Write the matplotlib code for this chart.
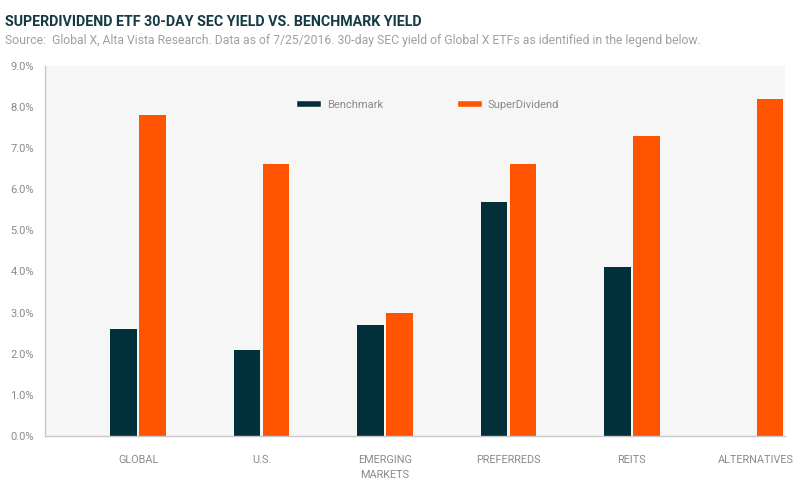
import matplotlib
matplotlib.use("Agg")
import matplotlib.pyplot as plt
import numpy as np

categories = ["GLOBAL", "U.S.", "EMERGING\nMARKETS", "PREFERREDS", "REITS", "ALTERNATIVES"]
benchmark = [2.6, 2.1, 2.7, 5.7, 4.1, np.nan]
superdividend = [7.8, 6.6, 3.0, 6.6, 7.3, 8.2]
yticks = [0, 1, 2, 3, 4, 5, 6, 7, 8, 9]

plt.rcParams['font.family'] = ['Roboto', 'DejaVu Sans']

fig = plt.figure(figsize=(8, 4.97), dpi=100)
ax = fig.add_axes([0.05625, 0.1227, 0.925, 0.745])
ax.set_facecolor("#f6f6f6")

x = np.arange(len(categories))
w = 0.215
gap = 0.01
c_b = "#02303a"
c_s = "#ff5500"
ax.bar(x - w/2 - gap, benchmark, w, color=c_b, label="Benchmark")
ax.bar(x + w/2 + gap, superdividend, w, color=c_s, label="SuperDividend")

ax.set_xlim(-0.754, 5.24)
ax.set_ylim(0, 9)
ax.set_yticks(yticks)
ax.set_yticklabels([f"{v:.1f}%" for v in yticks], color="#8a8a8a", fontsize=8)
ax.set_xticks(x)
ax.set_xticklabels(categories, color="#8a8a8a", fontsize=7.8, linespacing=1.6)
ax.tick_params(axis='both', length=0)
ax.tick_params(axis='x', pad=14)
ax.tick_params(axis='y', pad=8)
for s in ["top", "right"]:
    ax.spines[s].set_visible(False)
for s in ["left", "bottom"]:
    ax.spines[s].set_color("#c8c8c8")
    ax.spines[s].set_linewidth(1)

from matplotlib.lines import Line2D
handles = [Line2D([0], [0], color=c_b, lw=4), Line2D([0], [0], color=c_s, lw=4)]
leg = ax.legend(handles, ["Benchmark", "SuperDividend"], ncol=2, frameon=False,
                loc="center", bbox_to_anchor=(0.52, 0.895), columnspacing=7,
                handlelength=1.6, handletextpad=0.8, fontsize=8)
for t in leg.get_texts():
    t.set_color("#8a8a8a")

fig.text(0.006, 0.955, "SUPERDIVIDEND ETF 30-DAY SEC YIELD VS. BENCHMARK YIELD",
         fontsize=10.3, fontweight="bold", color="#163a45", va="center")
fig.text(0.006, 0.918, "Source:  Global X, Alta Vista Research. Data as of 7/25/2016. 30-day SEC yield of Global X ETFs as identified in the legend below.",
         fontsize=8.8, color="#a0a0a0", va="center")

fig.savefig("out.png", dpi=100, facecolor="white")
